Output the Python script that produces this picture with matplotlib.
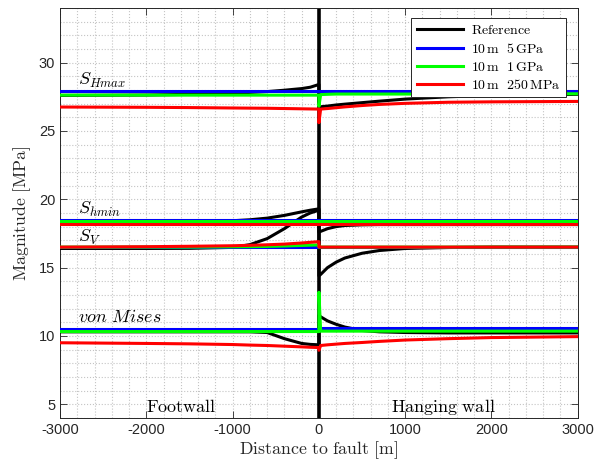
import numpy as np
import matplotlib
matplotlib.use("Agg")
import matplotlib.pyplot as plt
from matplotlib.ticker import MultipleLocator

plt.rcParams["mathtext.fontset"] = "cm"
plt.rcParams["font.family"] = ["Liberation Sans", "DejaVu Sans"]
plt.rcParams["axes.unicode_minus"] = False

# distance to fault [m], footwall side and hanging-wall side
x_fw = [-3000, -2000, -1500, -1000, -800, -600, -400, -200, -100, 0]
x_hw = [0, 20, 100, 200, 300, 500, 700, 1000, 1500, 2000, 3000]

# S_Hmax [MPa]
ref_shmax_fw = [27.6, 27.63, 27.68, 27.76, 27.82, 27.88, 27.98, 28.1, 28.2, 28.4]
ref_shmax_hw = [26.75, 26.77, 26.82, 26.9, 26.96, 27.07, 27.18, 27.33, 27.5, 27.6, 27.68]
e5_shmax_fw = [27.9, 27.9, 27.9, 27.9, 27.9, 27.9, 27.9, 27.9, 27.9, 27.9]
e5_shmax_hw = [27.9, 27.9, 27.9, 27.9, 27.9, 27.9, 27.9, 27.9, 27.9, 27.9, 27.9]
e1_shmax_fw = [27.62, 27.62, 27.62, 27.62, 27.62, 27.62, 27.62, 27.62, 27.62, 27.62]
e1_shmax_hw = [26.8, 27.66, 27.68, 27.7, 27.7, 27.7, 27.7, 27.7, 27.7, 27.72, 27.72]
e250_shmax_fw = [26.75, 26.73, 26.71, 26.68, 26.67, 26.66, 26.64, 26.62, 26.61, 26.6]
e250_shmax_hw = [25.6, 26.6, 26.64, 26.7, 26.76, 26.86, 26.94, 27.02, 27.1, 27.13, 27.16]

# S_hmin [MPa]
ref_shmin_fw = [18.4, 18.4, 18.41, 18.43, 18.5, 18.62, 18.82, 19.08, 19.2, 19.3]
ref_shmin_hw = [17.6, 17.65, 17.85, 18.0, 18.08, 18.13, 18.15, 18.15, 18.15, 18.15, 18.15]
e5_shmin_fw = [18.48, 18.48, 18.48, 18.48, 18.48, 18.48, 18.48, 18.48, 18.48, 18.48]
e5_shmin_hw = [18.48, 18.48, 18.48, 18.48, 18.48, 18.48, 18.48, 18.48, 18.48, 18.48, 18.48]
e1_shmin_fw = [18.38, 18.38, 18.38, 18.38, 18.38, 18.38, 18.38, 18.38, 18.38, 18.38]
e1_shmin_hw = [18.38, 18.38, 18.38, 18.38, 18.38, 18.38, 18.38, 18.38, 18.38, 18.38, 18.38]
e250_shmin_fw = [18.16, 18.16, 18.16, 18.16, 18.16, 18.16, 18.16, 18.16, 18.16, 18.16]
e250_shmin_hw = [18.18, 18.18, 18.18, 18.18, 18.18, 18.18, 18.18, 18.18, 18.18, 18.18, 18.18]

# S_V [MPa]
ref_sv_fw = [16.4, 16.4, 16.41, 16.48, 16.68, 17.12, 17.85, 18.7, 19.0, 19.2]
ref_sv_hw = [14.4, 14.5, 15.0, 15.4, 15.7, 16.05, 16.25, 16.4, 16.47, 16.5, 16.5]
e5_sv_fw = [16.5, 16.5, 16.5, 16.5, 16.5, 16.5, 16.5, 16.5, 16.5, 16.5]
e5_sv_hw = [16.52, 16.52, 16.52, 16.52, 16.52, 16.52, 16.52, 16.52, 16.52, 16.52, 16.52]
e1_sv_fw = [16.5, 16.5, 16.5, 16.52, 16.53, 16.55, 16.58, 16.62, 16.64, 16.66]
e1_sv_hw = [16.5, 16.5, 16.5, 16.5, 16.5, 16.5, 16.5, 16.5, 16.5, 16.5, 16.5]
e250_sv_fw = [16.5, 16.53, 16.56, 16.6, 16.63, 16.67, 16.72, 16.8, 16.85, 16.9]
e250_sv_hw = [16.5, 16.5, 16.5, 16.5, 16.5, 16.5, 16.5, 16.5, 16.5, 16.5, 16.5]

# von Mises [MPa]
ref_vm_fw = [10.3, 10.3, 10.3, 10.3, 10.3, 10.25, 9.8, 9.45, 9.38, 9.35]
ref_vm_hw = [11.5, 11.4, 11.1, 10.85, 10.65, 10.4, 10.3, 10.25, 10.22, 10.22, 10.22]
e5_vm_fw = [10.5, 10.5, 10.5, 10.5, 10.5, 10.5, 10.5, 10.5, 10.5, 10.5]
e5_vm_hw = [10.55, 10.55, 10.55, 10.55, 10.55, 10.55, 10.55, 10.55, 10.55, 10.55, 10.55]
e1_vm_fw = [10.32, 10.32, 10.32, 10.32, 10.32, 10.32, 10.32, 10.32, 10.32, 10.32]
e1_vm_hw = [13.2, 10.35, 10.35, 10.35, 10.35, 10.35, 10.35, 10.35, 10.35, 10.35, 10.35]
e250_vm_fw = [9.5, 9.45, 9.42, 9.37, 9.33, 9.3, 9.25, 9.2, 9.17, 9.15]
e250_vm_hw = [8.95, 9.3, 9.35, 9.4, 9.45, 9.52, 9.6, 9.7, 9.8, 9.88, 9.95]

models = [
    (r"$\mathrm{Reference}$", "black",
     [(ref_shmax_fw, ref_shmax_hw), (ref_shmin_fw, ref_shmin_hw),
      (ref_sv_fw, ref_sv_hw), (ref_vm_fw, ref_vm_hw)]),
    (r"$\mathrm{10\,m\ \ 5\,GPa}$", "#0000ff",
     [(e5_shmax_fw, e5_shmax_hw), (e5_shmin_fw, e5_shmin_hw),
      (e5_sv_fw, e5_sv_hw), (e5_vm_fw, e5_vm_hw)]),
    (r"$\mathrm{10\,m\ \ 1\,GPa}$", "#00ff00",
     [(e1_shmax_fw, e1_shmax_hw), (e1_shmin_fw, e1_shmin_hw),
      (e1_sv_fw, e1_sv_hw), (e1_vm_fw, e1_vm_hw)]),
    (r"$\mathrm{10\,m\ \ 250\,MPa}$", "#ff0000",
     [(e250_shmax_fw, e250_shmax_hw), (e250_shmin_fw, e250_shmin_hw),
      (e250_sv_fw, e250_sv_hw), (e250_vm_fw, e250_vm_hw)]),
]

stress_labels = [r"$S_{Hmax}$", r"$S_{hmin}$", r"$S_V$", r"$von\ Mises$"]
stress_label_y = [28.34, 18.9, 16.86, 11.0]

fig = plt.figure(figsize=(5.95, 4.68), dpi=100)
ax = fig.add_axes([0.101, 0.107, 0.870, 0.876])

# fault plane
ax.axvline(0, color="black", lw=2.6, zorder=2)

x_all = np.concatenate([x_fw, x_hw])
for label, color, curves in models:
    for i, (fw, hw) in enumerate(curves):
        ax.plot(x_all, np.concatenate([fw, hw]), color=color, lw=2.2,
                label=label if i == 0 else None, zorder=3)

for txt, y in zip(stress_labels, stress_label_y):
    ax.text(-2790, y, txt, fontsize=13, va="baseline", ha="left")

ax.text(-1590, 4.4, r"$\mathrm{Footwall}$", fontsize=13, ha="center", va="baseline")
ax.text(1440, 4.4, r"$\mathrm{Hanging\ wall}$", fontsize=13, ha="center", va="baseline")

ax.set_xlim(-3000, 3000)
ax.set_ylim(4, 34)
ax.xaxis.set_major_locator(MultipleLocator(1000))
ax.xaxis.set_minor_locator(MultipleLocator(200))
ax.yaxis.set_major_locator(MultipleLocator(5))
ax.yaxis.set_minor_locator(MultipleLocator(1))
ax.tick_params(which="major", direction="in", length=5, top=True, right=True,
               labelsize=10.5, colors="#262626", width=0.6)
ax.tick_params(which="minor", length=0, top=True, right=True)
ax.grid(which="both", linestyle=":", color="#c4c4c4", lw=0.8)
for s in ax.spines.values():
    s.set_color("#262626")
    s.set_linewidth(0.7)

ax.set_xlabel(r"$\mathrm{Distance\ to\ fault\ [m]}$", fontsize=12.8, color="#262626", labelpad=2)
ax.set_ylabel(r"$\mathrm{Magnitude\ [MPa]}$", fontsize=12.8, color="#262626", labelpad=4)

leg = ax.legend(loc="upper right", bbox_to_anchor=(0.977, 0.976), borderaxespad=0,
                fontsize=10, handlelength=3.3, labelspacing=0.3, borderpad=0.4,
                handletextpad=0.6, fancybox=False, framealpha=1)
leg.get_frame().set_edgecolor("#262626")
leg.get_frame().set_linewidth(0.7)

fig.savefig("out.png", dpi=100)
